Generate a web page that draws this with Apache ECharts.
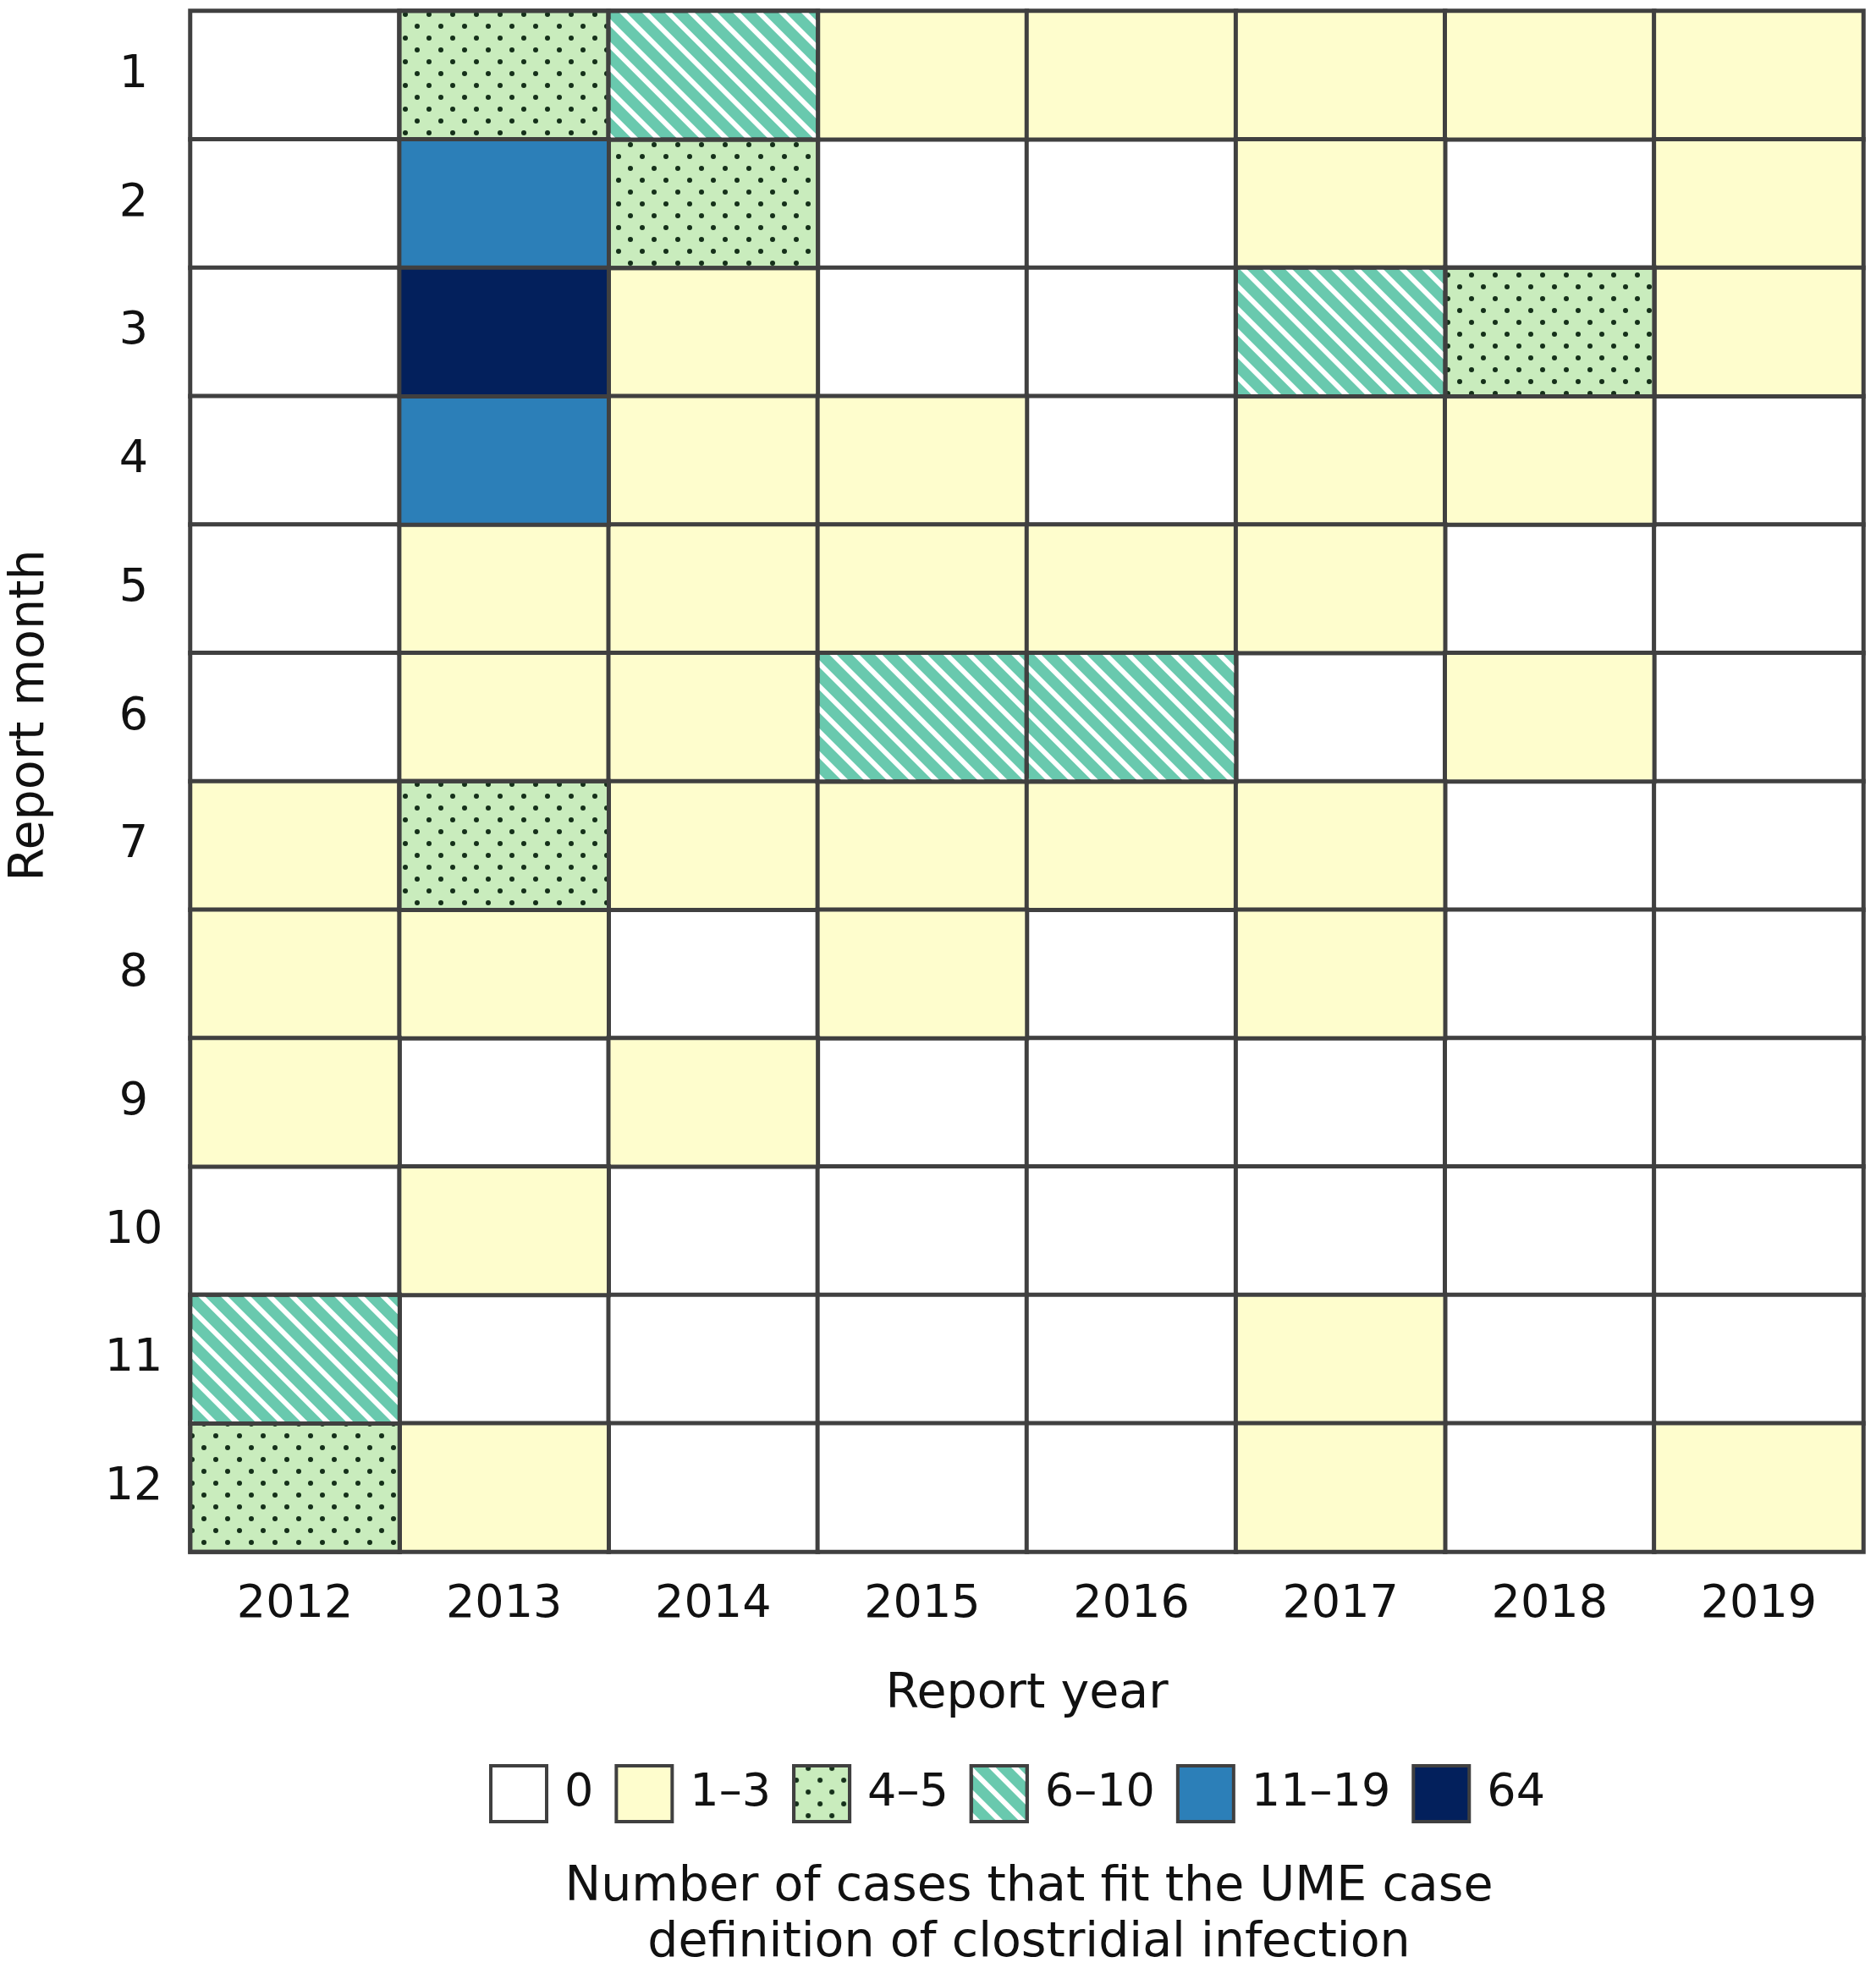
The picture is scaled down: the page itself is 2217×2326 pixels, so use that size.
<!DOCTYPE html>
<html>
<head>
<meta charset="utf-8">
<script src="https://cdn.jsdelivr.net/npm/echarts@6/dist/echarts.min.js"></script>
<style>
  html, body { margin: 0; padding: 0; background: #fff; }
  #chart { width: 2217px; height: 2326px; }
</style>
</head>
<body>
<div id="chart"></div>
<script>
// ---- data ---------------------------------------------------------------
const years = ['2012', '2013', '2014', '2015', '2016', '2017', '2018', '2019'];
const months = ['1', '2', '3', '4', '5', '6', '7', '8', '9', '10', '11', '12'];
const binLabels = ['0', '1–3', '4–5', '6–10', '11–19', '64'];

// bin index per cell, one row per report month, columns = years above
const binGrid = [
  [0, 2, 3, 1, 1, 1, 1, 1],
  [0, 4, 2, 0, 0, 1, 0, 1],
  [0, 5, 1, 0, 0, 3, 2, 1],
  [0, 4, 1, 1, 0, 1, 1, 0],
  [0, 1, 1, 1, 1, 1, 0, 0],
  [0, 1, 1, 3, 3, 0, 1, 0],
  [1, 2, 1, 1, 1, 1, 0, 0],
  [1, 1, 0, 1, 0, 1, 0, 0],
  [1, 0, 1, 0, 0, 0, 0, 0],
  [0, 1, 0, 0, 0, 0, 0, 0],
  [3, 0, 0, 0, 0, 1, 0, 0],
  [2, 1, 0, 0, 0, 1, 0, 1]
];

// ---- styling ---------------------------------------------------------------
const FONT = '"DejaVu Sans", Verdana, sans-serif';
const INK = '#111';
const LINE = '#404040';

const dots = {
  symbol: 'circle',
  symbolSize: 1,
  color: '#15301a',
  dashArrayX: [[6, 22], [0, 14, 6, 8]],
  dashArrayY: [6, 8]
};
const stripes = {
  symbol: 'rect',
  symbolSize: 1,
  color: '#ffffff',
  dashArrayX: [1, 0],
  dashArrayY: [6, 13],
  rotation: Math.PI / 4
};

const binStyles = [
  { color: '#ffffff' },
  { color: '#fefdcd' },
  { color: '#c9ecbd', decal: dots },
  { color: '#69c9ae', decal: stripes },
  { color: '#2c7fb8' },
  { color: '#03205c' }
];

// one heatmap series per bin so the legend gets one entry each
const series = binLabels.map((label, b) => {
  const cells = [];
  binGrid.forEach((row, m) => {
    row.forEach((bin, y) => { if (bin === b) cells.push([y, m, b]); });
  });
  return {
    name: label,
    type: 'heatmap',
    data: cells,
    itemStyle: Object.assign({ borderColor: LINE, borderWidth: 5 }, binStyles[b]),
    emphasis: { disabled: true }
  };
});

const chart = echarts.init(document.getElementById('chart'), null, { renderer: 'canvas' });
chart.setOption({
  animation: false,
  backgroundColor: '#ffffff',
  grid: { left: 218, right: 15, top: 13, bottom: 492 },
  xAxis: {
    type: 'category',
    data: years,
    position: 'bottom',
    axisLine: { show: false },
    axisTick: { show: false },
    splitLine: { show: false },
    axisLabel: { fontFamily: FONT, fontSize: 54, color: INK, margin: 36 },
    name: 'Report year',
    nameLocation: 'middle',
    nameGap: 141,
    nameTextStyle: { fontFamily: FONT, fontSize: 57, color: INK }
  },
  yAxis: {
    type: 'category',
    data: months,
    inverse: true,
    axisLine: { show: false },
    axisTick: { show: false },
    splitLine: { show: false },
    axisLabel: { fontFamily: FONT, fontSize: 54, color: INK, margin: 67, align: 'center' },
    name: 'Report month',
    nameLocation: 'middle',
    nameGap: 160,
    // label sits above the middle of the grid in the original
    nameTextStyle: { fontFamily: FONT, fontSize: 57, color: INK, padding: [0, 0, 0, 156] }
  },
  legend: {
    data: binLabels,
    icon: 'rect',
    left: 578,
    top: 2085,
    padding: 0,
    itemWidth: 66,
    itemHeight: 66,
    itemGap: 25,
    selectedMode: false,
    itemStyle: { borderColor: LINE, borderWidth: 4 },
    textStyle: { fontFamily: FONT, fontSize: 54, color: INK, padding: [0, 0, 0, 16] }
  },
  graphic: [
    {
      type: 'text',
      style: {
        x: 1216, y: 2231, text: 'Number of cases that fit the UME case',
        font: '57px ' + FONT, fill: INK, textAlign: 'center', textVerticalAlign: 'middle'
      }
    },
    {
      type: 'text',
      style: {
        x: 1216, y: 2297, text: 'definition of clostridial infection',
        font: '57px ' + FONT, fill: INK, textAlign: 'center', textVerticalAlign: 'middle'
      }
    }
  ],
  series: series
});

window.addEventListener('resize', () => { try { chart.resize(); } catch (e) {} }, { passive: true });
</script>
</body>
</html>
